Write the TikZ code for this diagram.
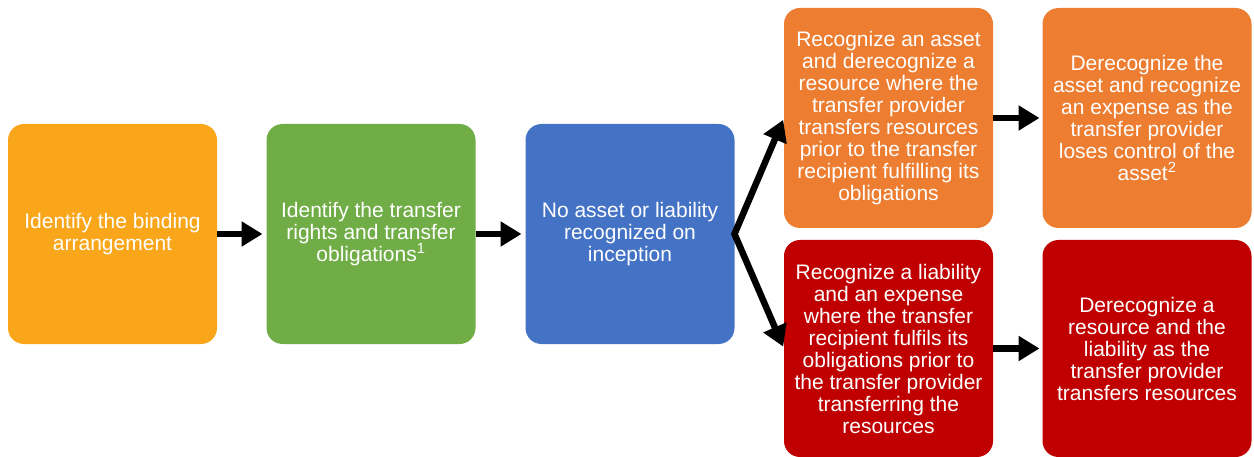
\documentclass[tikz,border=0pt]{standalone}
\usepackage{fontspec}
\setmainfont{Liberation Sans}
\usetikzlibrary{arrows.meta}
\definecolor{cyellow}{HTML}{F9A61B}
\definecolor{cgreen}{HTML}{70AD47}
\definecolor{cblue}{HTML}{4472C4}
\definecolor{corange}{HTML}{ED7D31}
\definecolor{cred}{HTML}{C00000}
\tikzset{
  box/.style={rectangle, rounded corners=16pt, draw=none, text=white, align=center,
    minimum width=209pt, minimum height=220pt, inner sep=2pt, outer sep=0pt,
    font=\fontsize{21}{22}\selectfont},
  arr/.style={line width=6.5pt, -{Triangle[length=21pt,width=24pt]}},
  darr/.style={line width=6.5pt, line join=miter, {Triangle[length=21pt,width=24pt]}-{Triangle[length=21pt,width=24pt]}}
}
\begin{document}
\begin{tikzpicture}[x=1pt,y=-1pt]
\useasboundingbox (0,0) rectangle (1254,457);
\node[box, fill=cyellow] (b1) at (112.5,234) {Identify the binding\\arrangement};
\node[box, fill=cgreen] (b2) at (371,234) {Identify the transfer\\rights and transfer\\obligations\textsuperscript{1}};
\node[box, fill=cblue] (b3) at (630,234) {No asset or liability\\recognized on\\inception};
\node[box, fill=corange] (b4) at (888.5,118) {Recognize an asset\\and derecognize a\\resource where the\\transfer provider\\transfers resources\\prior to the transfer\\recipient fulfilling its\\obligations};
\node[box, fill=corange] (b5) at (1147,118) {Derecognize the\\asset and recognize\\an expense as the\\transfer provider\\loses control of the\\asset\textsuperscript{2}};
\node[box, fill=cred, minimum height=217pt] (b6) at (888.5,348.5) {Recognize a liability\\and an expense\\where the transfer\\recipient fulfils its\\obligations prior to\\the transfer provider\\transferring the\\resources};
\node[box, fill=cred, minimum height=217pt] (b7) at (1147,348.5) {Derecognize a\\resource and the\\liability as the\\transfer provider\\transfers resources};
\draw[arr, shorten >=4pt] (b1.east) -- (b2.west);
\draw[arr, shorten >=4pt] (b2.east) -- (b3.west);
\draw[darr, shorten >=2pt, shorten <=2pt] (b4.west) -- (b3.east) -- (b6.west);
\draw[arr, shorten >=3pt] (b4.east) -- (b5.west);
\draw[arr, shorten >=3pt] (b6.east) -- (b7.west);
\end{tikzpicture}
\end{document}
